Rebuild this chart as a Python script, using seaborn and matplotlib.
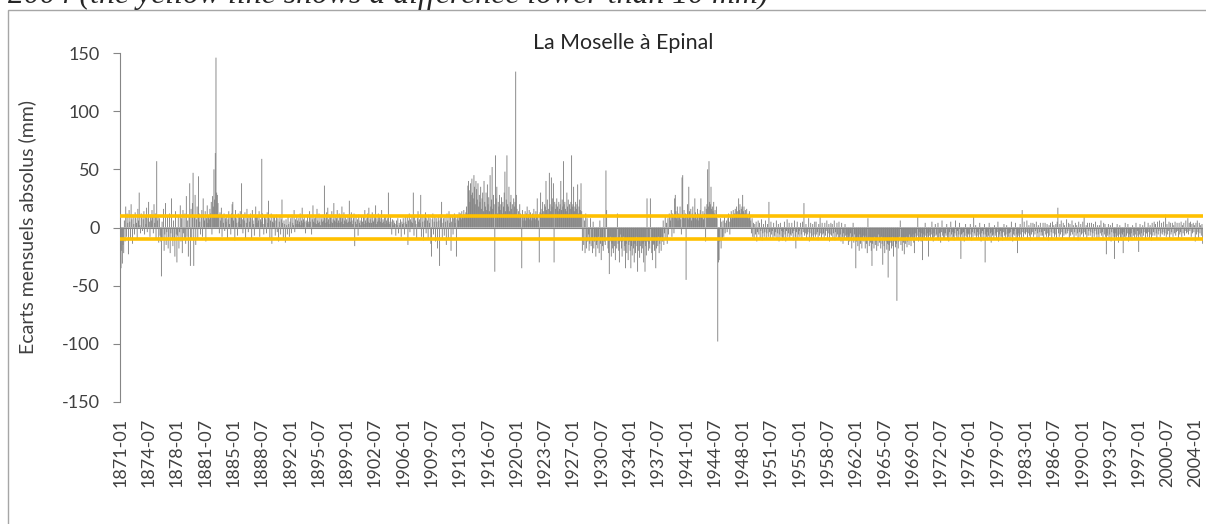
import pandas as pd
import seaborn as sns
import matplotlib.pyplot as plt
from matplotlib.patches import Rectangle

# Ecarts mensuels (mm), 12 valeurs par ligne = 1 an
ecarts_1871_1890 = [
    -28, -35, -20, -31, -15, -22, 6, -12, 18, -8, 12, 4,
    -23, 15, 5, -10, 20, 7, -14, 11, 3, -6, 13, 8,
    4, -9, 16, 6, 30, 2, -5, 12, 9, -3, 7, 14,
    -6, 10, 3, 17, -4, 8, 22, 5, -8, 11, 6, 15,
    9, -5, 20, 4, 12, -10, 57, 6, 10, -13, 8, -7,
    -12, -42, 5, -9, 16, -20, -6, 21, -15, -4, 9, -18,
    -8, 12, -22, -5, 25, -10, -16, 6, -9, -25, 14, -6,
    -30, -7, 10, -18, -4, 19, -12, 8, -22, 15, -5, -9,
    12, -14, 27, -8, 6, -25, 9, 38, -33, 16, -10, 21,
    47, -33, 10, 28, -15, 7, 18, -9, 44, 12, 5, -6,
    9, 15, -8, 25, 11, 6, 14, -12, 8, 19, 4, 10,
    7, 16, 12, 22, -6, 27, 18, 50, 24, 64, 146, 30,
    28, 21, 9, -5, 13, 6, 17, -8, 10, 4, 12, -3,
    8, 5, 11, -9, 7, 14, 3, 9, -6, 12, 20, 22,
    6, 10, -11, 15, 8, 4, -7, 12, 5, 9, 14, 3,
    38, 7, -5, 11, 6, 13, -9, 4, 16, 8, -4, 10,
    5, 12, 8, -10, 15, 6, 3, -7, 11, 18, 9, 4,
    10, 6, 14, -8, 7, 5, 59, 12, 3, -6, 9, 11,
    7, -5, 13, 4, 23, 8, -9, 6, 12, -14, 5, 9,
    4, 10, -7, 6, 11, -4, 8, -12, 5, 9, -6, 7,
]
ecarts_1891_1912 = [
    24, 4, -9, 6, 3, -13, 7, 2, -6, 9, 3, -8,
    5, 8, -5, 11, 4, 2, 15, -4, 7, 3, 9, 6,
    3, 8, 5, 12, 2, 6, 17, 4, 7, 10, 5, -5,
    6, 4, 11, 5, 3, 14, 5, 9, -6, 7, 19, 5,
    8, 4, 10, 3, 16, 6, 4, 12, 5, 2, 9, 7,
    5, 11, 6, 36, 8, 4, 13, 5, 17, 7, 3, 10,
    9, 5, 14, 4, 7, 21, 6, 11, 5, 8, 15, 4,
    6, 12, 4, 9, 5, 18, 8, 3, 13, 6, 10, 5,
    7, 4, 11, 5, 23, 9, 5, 13, 6, 3, 8, 12,
    -16, 5, 9, 3, 7, -7, 11, 4, 6, 2, 10, 5,
    5, 9, 3, 15, 6, 4, 8, 12, 5, 17, 4, 7,
    9, 4, 13, 6, 5, 11, 7, 19, 3, 8, 5, 12,
    6, 10, 5, 8, 15, 4, 7, 5, 11, 3, 9, 6,
    4, 8, 30, 5, 3, 9, 5, -6, 7, 2, 6, 4,
    3, -7, 6, 2, 8, -5, 4, 2, 7, -8, 5, 3,
    8, 4, -6, 10, 5, 3, 9, -15, 6, 12, -4, 7,
    5, 9, 4, 30, -7, 11, 6, 3, -9, 8, 14, 5,
    7, 4, 28, -8, 10, 5, -11, 9, 6, 13, -5, 8,
    6, -9, 11, 4, 8, -14, -25, 7, 12, -6, 5, 10,
    -12, 8, 5, -18, 9, 6, -33, 11, 7, 22, -10, 4,
    8, -7, 10, 5, -15, 12, 6, -9, 14, 4, 9, -20,
    5, 10, -6, 8, 12, 4, 9, -25, 7, 11, 6, 13,
]
ecarts_1913_1930 = [
    9, 12, 7, 14, 10, 8, 15, 11, 9, 13, 18, 12,
    36, 40, 32, 22, 38, 28, 42, 30, 25, 45, 35, 20,
    40, 33, 24, 38, 18, 28, 22, 35, 16, 25, 30, 14,
    40, 22, 18, 30, 15, 37, 20, 26, 14, 45, 18, 24,
    52, 16, 28, 20, -38, 62, 25, 35, 12, 22, 18, 28,
    15, 20, 26, 12, 22, 18, 30, 48, 14, 24, 62, 20,
    18, 35, 14, 22, 28, 16, 20, 12, 25, 18, 22, 134,
    28, 16, 10, 14, 8, 20, 12, 9, -35, 15, 6, 11,
    9, 14, 6, 12, 18, 8, 11, 15, 7, 13, 10, 6,
    12, 8, 16, 10, 7, 14, 11, 25, 9, 6, -30, 13,
    30, 12, 16, 22, 14, 10, 20, 18, 40, 15, 24, 12,
    16, 47, 20, 14, 43, 18, 25, 38, -30, 22, 16, 20,
    25, 18, 14, 22, 16, 20, 40, 15, 24, 18, 57, 20,
    22, 16, 14, 30, 18, 24, 12, 20, 16, 22, 62, 18,
    20, 35, 14, 18, 22, 16, 20, 37, 12, 18, 24, 15,
    38, 14, -20, 10, -15, 6, -22, 12, -18, 8, -12, -6,
    -20, -14, 8, -16, -10, -22, 5, -18, -12, -8, -25, -15,
    -12, -18, -8, -22, 6, -14, -28, -10, -16, -20, 9, -12,
]
ecarts_1931_1950 = [
    -15, 49, 15, -10, -18, -22, -40, -12, -8, -25, -14, -18,
    -22, -10, -16, -28, -8, -18, 12, -14, -20, -30, -12, -6,
    -18, -25, -12, -8, -20, -16, -35, -14, -22, -10, -28, -15,
    -12, -20, -35, -16, -24, -10, -18, -30, -14, -22, -8, -16,
    -38, -20, -12, -26, -16, -10, -22, -18, -14, -30, -12, -38,
    -16, -24, 25, -12, -20, -14, -18, 25, -10, -22, -28, -15,
    -14, -20, -10, -35, -18, -12, -16, -8, -22, -14, -10, -20,
    -8, -12, 6, -15, -5, 10, -10, 4, -14, 8, -6, 12,
    10, 6, 15, -8, 12, 9, -5, 25, 28, 14, 8, 18,
    6, 12, 9, 18, 7, -6, 43, 45, 10, 15, 8, 12,
    -45, 11, 20, 7, 35, 14, 9, 16, 6, 12, 18, 10,
    8, 25, 13, 7, 11, 16, 6, 12, 9, 15, 25, 10,
    9, 14, 7, 12, 18, -12, 16, 20, 50, 18, 57, 22,
    20, 35, 16, 18, 14, 22, 12, 15, 10, 18, 8, -98,
    -30, -28, -12, 8, -18, 5, -10, 6, -8, 9, -5, 4,
    6, -4, 8, 12, 5, -6, 9, 14, 7, 10, 15, 8,
    12, 16, 10, 18, 14, 9, 25, 15, 20, 12, 16, 18,
    28, 14, 18, 12, 15, 10, 16, 9, 12, 8, 14, 10,
    6, -5, 8, -8, 4, -10, 3, -6, 5, -12, -4, 6,
    -6, 4, -9, -3, 7, -11, -5, 3, -8, -4, 6, -10,
]
ecarts_1951_1975 = [
    -5, 3, -8, 22, -4, -10, 5, -6, -3, -9, 4, -7,
    -8, -4, 6, -10, -5, 3, -12, -6, 4, -8, -3, -11,
    -4, -9, 5, -6, -12, -3, 7, -8, -5, 4, -10, -6,
    -7, 4, -5, -11, -3, 6, -8, -18, -4, 5, -9, -6,
    -3, -8, 4, -6, -10, 5, -4, 21, -7, -5, 3, -9,
    -6, -4, 8, -12, -5, 4, -9, -7, 3, -10, -6, 5,
    -8, 5, -6, -4, -11, 3, -7, 9, -5, -9, 4, -6,
    -5, -10, 4, -7, -3, 6, -9, -5, 3, -12, -6, 4,
    -7, 3, -9, -5, 6, -11, -4, -8, 4, -6, -10, 5,
    -9, -6, -12, 4, -8, -14, -5, -10, 3, -7, -11, -6,
    -10, -15, -7, -12, -5, -9, -18, -8, 4, -13, -6, -11,
    -35, -12, -8, -16, -10, -20, -6, -14, -9, -18, -11, -7,
    -12, -9, -18, -7, -14, -22, 8, -10, -16, -8, -13, -20,
    -33, -14, -10, -18, -8, -15, -12, -20, -9, -16, -6, -13,
    -11, -18, -8, -14, -32, -10, -16, -22, -9, -12, -19, -14,
    -43, -15, -20, -10, -13, -18, -8, -16, -25, -12, -9, -17,
    -14, -63, -10, -18, -12, -8, 6, -15, -11, -20, -9, -13,
    -23, -10, -14, -8, -17, -12, -9, -15, -6, -11, -16, -8,
    -10, -6, -13, -22, -8, -5, -11, -7, 10, -12, -4, -9,
    -8, -12, -5, -28, -9, -6, -10, 4, -7, -11, -5, -8,
    -25, -7, -4, -10, -6, 5, -9, -12, -5, -8, 3, -7,
    -6, -9, 4, -11, -5, -8, -13, -4, 6, -7, -10, -5,
    -9, -5, -7, 3, -10, -6, -12, -4, -8, 5, -6, -9,
    -4, -8, -11, -5, 6, -7, -9, -3, -10, -6, 4, -8,
    -27, -6, -5, -9, -4, -12, -7, 3, -8, -5, -10, -6,
]
ecarts_1976_2004 = [
    -5, -9, 3, -6, -11, -4, -8, 10, -5, -7, 2, -9,
    -7, -4, -10, -6, 4, -8, -12, -5, -3, -9, -6, 3,
    -30, -6, -8, -4, -11, -7, 4, -9, -5, -13, -4, -7,
    -6, -10, 2, -7, -5, -9, -4, 5, -12, -6, -8, -3,
    -8, -5, -11, -4, 3, -7, -9, -6, 2, -10, -5, -8,
    -5, -9, -4, 5, -8, -12, -6, -3, -7, 4, -10, -6,
    -22, -7, -5, -10, 3, -6, -9, 15, -4, -8, 5, -5,
    -6, -4, 6, -9, -5, 2, -7, -11, 4, -6, -4, 4,
    -8, 3, -6, -3, 5, -9, -5, 2, -10, -4, 4, -7,
    -4, -7, 4, -9, -3, 4, -6, -8, 3, -5, -11, 2,
    -7, 4, -4, -10, 5, -5, 2, -8, -6, 3, -9, 5,
    17, -5, -8, 3, -6, 6, -4, -9, 4, -7, 2, -5,
    -6, 7, -5, -3, 4, -10, 3, -7, -4, 6, -6, 2,
    -9, -4, 4, -7, 2, -5, -11, 5, -4, -8, 3, -6,
    -5, 5, -8, 9, -4, -6, 2, -10, 4, -7, -3, 4,
    -7, -4, 4, -9, -5, 3, -8, -3, 5, -6, -10, 2,
    -6, -9, 2, -5, 6, -7, -4, -11, 4, -6, 3, -8,
    -23, -5, -7, 3, -9, -6, 2, -12, -4, 4, -8, -5,
    -27, -8, -5, -10, 3, -7, -13, -6, 2, -9, -5, -11,
    -6, -22, -4, -8, 4, -10, -7, -5, 3, -12, -6, -9,
    -8, -5, -11, 2, -7, -4, -10, -6, 4, -9, -3, -7,
    -21, -6, 3, -8, -5, -10, 2, -7, -4, 5, -9, -5,
    -5, -8, 4, -4, -9, 2, -6, -11, 4, -7, -4, 5,
    -7, 3, -5, -9, 5, -6, -3, 6, -8, -5, 4, -6,
    -4, 5, -7, -5, 11, -8, 3, -6, -3, 5, -9, 4,
    -6, -4, 4, -8, 2, -5, 5, -7, -4, 4, -3, -9,
    4, -6, -4, 5, -8, 2, -5, 4, -7, -3, 6, -5,
    -4, 8, -6, 4, -3, 5, -8, 3, -5, 4, -4, 2,
    -12, 4, -6, 6, -4, -9, 4, -5, 2, -7, 3, -14,
]
seuil = 10  # mm, lignes jaunes

ecarts = (ecarts_1871_1890 + ecarts_1891_1912 + ecarts_1913_1930
          + ecarts_1931_1950 + ecarts_1951_1975 + ecarts_1976_2004)
mois = pd.period_range("1871-01", periods=len(ecarts), freq="M").strftime("%Y-%m")
df = pd.DataFrame({"mois": mois, "ecart": ecarts})

sns.set_style("white")
plt.rcParams["font.family"] = ["Lato", "DejaVu Sans"]
plt.rcParams["axes.unicode_minus"] = False

W, H = 1206, 524
fig = plt.figure(figsize=(W / 100, H / 100), dpi=100)

# cadre du graphique (coupé à droite et en bas)
fig.patches.append(Rectangle((8 / W, -0.1), 1.2, 1 - 10 / H + 0.1, transform=fig.transFigure,
                             fill=False, edgecolor="#a6a6a6", linewidth=1.0))

ax = fig.add_axes([120 / W, 1 - 402 / H, (1203 - 120) / W, (402 - 53) / H])
sns.barplot(data=df, x="mois", y="ecart", color="#7f7f7f", saturation=1,
            width=1.3, linewidth=0, errorbar=None, ax=ax)
# barres plus fines qu'un pixel : pas d'alignement sur la grille
for bar in ax.patches:
    bar.set_snap(False)
ax.set_xlim(-0.5, len(mois) - 0.5)

ax.axhline(0, color="#868686", linewidth=0.8, zorder=2)
for s in (seuil, -seuil):
    ax.axhline(s, color="#ffc000", linewidth=2.6, zorder=3)

ax.set_ylim(-150, 150)
ax.set_yticks(range(-150, 151, 50))
ax.set_xticks(range(0, len(mois), 42))
ax.set_xticklabels(mois[::42], rotation=90)
ax.tick_params(axis="x", length=0, pad=11.5, labelsize=13, labelcolor="#404040")
ax.tick_params(axis="y", direction="out", length=5, width=0.8, color="#868686",
               pad=9.5, labelsize=13, labelcolor="#404040", left=True)
for side in ("top", "right", "bottom"):
    ax.spines[side].set_visible(False)
ax.spines["left"].set_color("#868686")
ax.spines["left"].set_linewidth(0.8)
ax.set_xlabel("")
ax.set_ylabel("")

fig.text(27 / W, 1 - 227 / H, "Ecarts mensuels absolus (mm)", rotation=90,
         ha="center", va="center", fontsize=14, color="#404040")
titre = fig.text(623 / W, 1 - 49 / H, "La Moselle à Epinal", ha="center", va="baseline",
                 fontsize=15, color="#262626")
# légende du document, tronquée en haut
legende = fig.text(8 / W, 1 - 3 / H, "2004 (the yellow line shows a difference lower than 10 mm)",
                   family="Liberation Serif", style="italic", fontsize=22,
                   va="baseline", ha="left")

# ajuster les tailles de police sur les largeurs mesurées
fig.canvas.draw()
rend = fig.canvas.get_renderer()
for txt, largeur in ((titre, 180), (legende, 758)):
    w = txt.get_window_extent(rend).width
    txt.set_fontsize(txt.get_fontsize() * largeur / w)

fig.savefig("out.png", dpi=100)
